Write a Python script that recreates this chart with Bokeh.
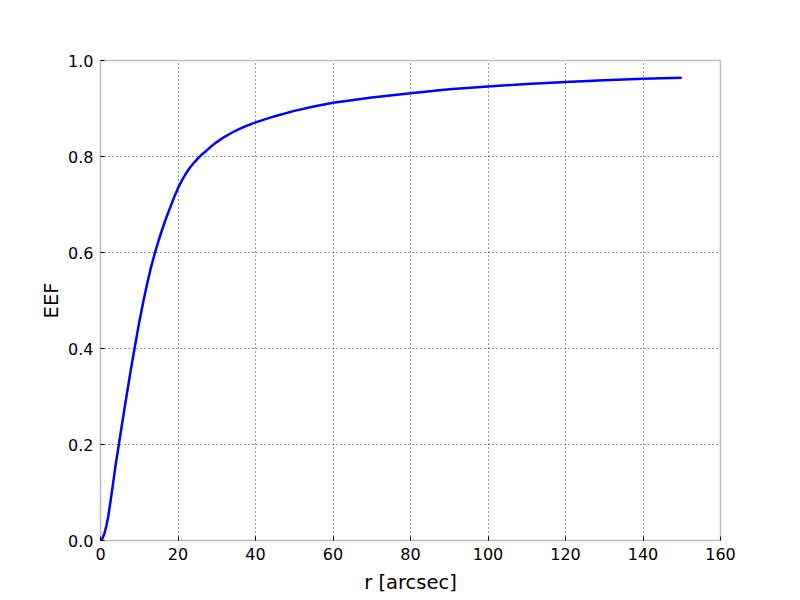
from bokeh.plotting import figure
from bokeh.models import Range1d, FixedTicker, CustomJSTickFormatter
from bokeh.embed import file_html
from bokeh.resources import INLINE

r_arcsec = [0, 0.5, 1, 1.5, 2, 2.5, 3, 3.5, 4, 5, 6, 7, 8, 9, 10, 11, 12, 13, 14,
            15, 16, 17, 18, 19, 20, 21, 22, 23, 24, 25, 26, 27, 28, 29, 30, 32,
            34, 36, 38, 40, 45, 50, 55, 60, 70, 80, 90, 100, 110, 120, 130, 140,
            150]
eef = [0.0, 0.004, 0.014, 0.03, 0.05, 0.077, 0.105, 0.134, 0.162, 0.214, 0.265,
       0.315, 0.364, 0.41, 0.455, 0.496, 0.534, 0.568, 0.598, 0.625, 0.650,
       0.673, 0.694, 0.715, 0.734, 0.750, 0.764, 0.776, 0.786, 0.795, 0.803,
       0.810, 0.817, 0.824, 0.830, 0.841, 0.850, 0.858, 0.865, 0.871, 0.884,
       0.895, 0.904, 0.912, 0.923, 0.932, 0.940, 0.946, 0.951, 0.955, 0.959,
       0.962, 0.964]
x_ticks = [0, 20, 40, 60, 80, 100, 120, 140, 160]
y_ticks = [0.0, 0.2, 0.4, 0.6, 0.8, 1.0]

FONT = "DejaVu Sans"

p = figure(width=800, height=600, output_backend="svg", toolbar_location=None,
           x_range=Range1d(0, 160), y_range=Range1d(0, 1.0),
           x_axis_label="r [arcsec]", y_axis_label="EEF",
           min_border_left=100, min_border_right=80,
           min_border_top=60, min_border_bottom=60)
p.background_fill_color = "white"
p.border_fill_color = "white"
p.outline_line_color = "#bdbdbd"
p.outline_line_width = 1.5

p.line(r_arcsec, eef, line_color="#0000ff", line_width=2.5)

p.xaxis.ticker = FixedTicker(ticks=x_ticks)
p.yaxis.ticker = FixedTicker(ticks=y_ticks)
p.yaxis.formatter = CustomJSTickFormatter(code="return tick.toFixed(1);")

for ax in (p.xaxis[0], p.yaxis[0]):
    ax.axis_line_color = None
    ax.major_tick_in = 4
    ax.major_tick_out = 0
    ax.minor_tick_line_color = None
    ax.major_tick_line_color = "black"
    ax.major_label_text_font = FONT
    ax.major_label_text_font_size = "16px"
    ax.major_label_text_color = "black"
    ax.axis_label_text_font = FONT
    ax.axis_label_text_font_size = "19.5px"
    ax.axis_label_text_font_style = "normal"
    ax.axis_label_text_color = "black"
    ax.major_label_standoff = 7

p.xaxis.axis_label_standoff = 8
p.yaxis.axis_label_standoff = 2

p.xgrid[0].ticker = FixedTicker(ticks=x_ticks)
p.ygrid[0].ticker = FixedTicker(ticks=y_ticks)
for g in (p.xgrid[0], p.ygrid[0]):
    g.grid_line_color = "black"
    g.grid_line_dash = "1 3"
    g.grid_line_width = 1
    g.grid_line_alpha = 0.8

open("out.html", "w").write(file_html(p, INLINE))
